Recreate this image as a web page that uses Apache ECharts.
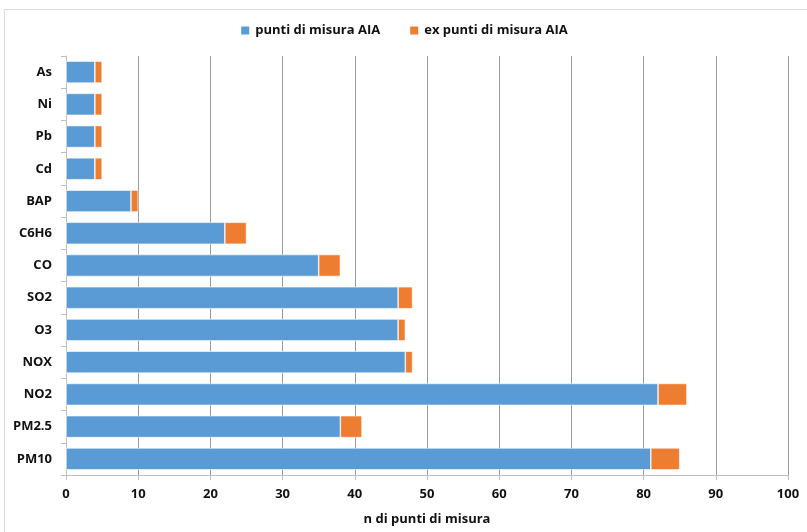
<!DOCTYPE html>
<html><head><meta charset="utf-8">
<script src="https://cdn.jsdelivr.net/npm/echarts@6/dist/echarts.min.js"></script>
<style>html,body{margin:0;padding:0;background:#fff}#c{width:807px;height:532px}</style>
</head><body><div id="c"></div>
<script>
const categories = ['As','Ni','Pb','Cd','BAP','C6H6','CO','SO2','O3','NOX','NO2','PM2.5','PM10'];
const aiaPoints = [4,4,4,4,9,22,35,46,46,47,82,38,81];
const exAiaPoints = [1,1,1,1,1,3,3,2,1,1,4,3,4];
const seriesNames = ['punti di misura AIA','ex punti di misura AIA'];
const axisTitle = 'n di punti di misura';

const font = '"Open Sans", "Noto Sans", sans-serif';
const chart = echarts.init(document.getElementById('c'));
chart.setOption({
  animation: false,
  graphic: [{type:'rect', shape:{x:4.5,y:9.5,width:820,height:540}, style:{fill:'none', stroke:'#D9D9D9', lineWidth:1}, silent:true}],
  legend: {
    top: 19, left: 'center', itemWidth: 10, itemHeight: 10, itemGap: 28,
    icon: 'rect',
    textStyle: {fontFamily: font, fontWeight: 'bold', fontSize: 13, color: '#111'},
    data: seriesNames
  },
  grid: {left: 66, right: 19, top: 56, bottom: 57, containLabel: false},
  xAxis: {
    type: 'value', min: 0, max: 100, interval: 10,
    name: axisTitle, nameLocation: 'middle', nameGap: 38,
    nameTextStyle: {fontFamily: font, fontWeight: 'bold', fontSize: 13, color: '#111'},
    axisLine: {show: true, lineStyle: {color: '#BFBFBF'}},
    axisTick: {show: true, length: 5, lineStyle: {color: '#BFBFBF'}},
    axisLabel: {fontFamily: font, fontWeight: 'bold', fontSize: 13, color: '#111', margin: 13},
    splitLine: {show: true, lineStyle: {color: '#9A9A9A'}}
  },
  yAxis: {
    type: 'category', inverse: true, data: categories,
    axisLine: {show: true, lineStyle: {color: '#BFBFBF'}},
    axisTick: {show: true, length: 5, lineStyle: {color: '#BFBFBF'}},
    axisLabel: {fontFamily: font, fontWeight: 'bold', fontSize: 13, color: '#111', margin: 14}
  },
  series: [
    {name: seriesNames[0], type: 'bar', stack: 't', data: aiaPoints, barCategoryGap: '32%',
     itemStyle: {color: '#5B9BD5', borderColor: '#fff', borderWidth: 0.6}},
    {name: seriesNames[1], type: 'bar', stack: 't', data: exAiaPoints, barCategoryGap: '32%',
     itemStyle: {color: '#ED7D31', borderColor: '#fff', borderWidth: 0.6}}
  ]
});
</script></body></html>
